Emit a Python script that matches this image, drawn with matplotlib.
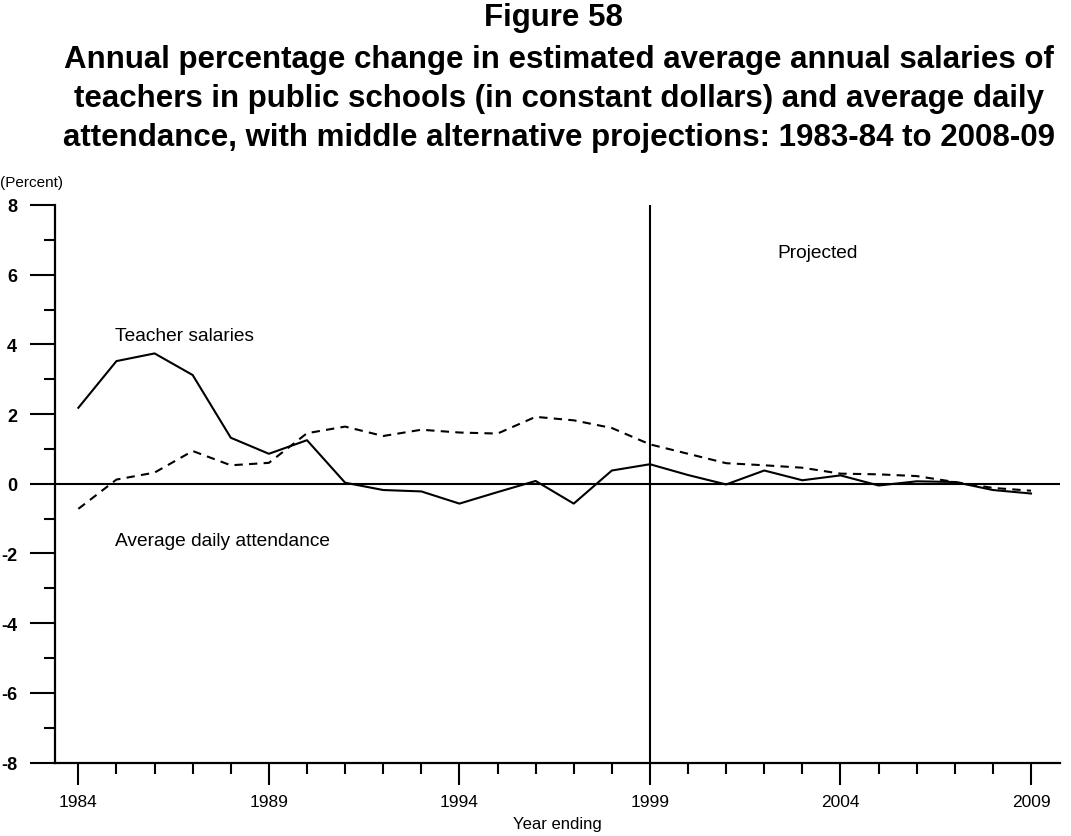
import matplotlib
matplotlib.use('Agg')
import matplotlib.pyplot as plt
from matplotlib.ticker import MultipleLocator

plt.rcParams['font.family'] = ['Liberation Sans', 'DejaVu Sans']
plt.rcParams['axes.unicode_minus'] = False

# data (percent change)
years = list(range(1984, 2010))
salaries = [2.18, 3.52, 3.74, 3.12, 1.32, 0.86, 1.25, 0.03, -0.18, -0.22, -0.57,
            -0.24, 0.08, -0.57, 0.38, 0.56, 0.25, -0.02, 0.38, 0.10, 0.24,
            -0.05, 0.07, 0.05, -0.18, -0.28]
attendance = [-0.72, 0.12, 0.32, 0.94, 0.53, 0.60, 1.45, 1.64, 1.37, 1.55, 1.47,
              1.44, 1.92, 1.82, 1.60, 1.13, 0.86, 0.59, 0.53, 0.46, 0.29,
              0.27, 0.22, 0.05, -0.12, -0.20]
proj_start = 1999
major_years = [1984, 1989, 1994, 1999, 2004, 2009]

fig = plt.figure(figsize=(10.71, 8.37), dpi=100)
ax = fig.add_axes([0.0511, 0.0878, 0.9386, 0.6661])

ax.plot(years, salaries, color='black', lw=1.5)
ax.plot(years, attendance, color='black', lw=1.5, linestyle=(0, (4, 3)))
ax.axhline(0, color='black', lw=1.5)
ax.axvline(proj_start, color='black', lw=1.5)

ax.set_xlim(1983.38, 2009.76)
ax.set_ylim(-8, 8)
ax.set_xticks(major_years)
ax.xaxis.set_minor_locator(MultipleLocator(1))
ax.yaxis.set_major_locator(MultipleLocator(2))
ax.yaxis.set_minor_locator(MultipleLocator(1))

for s in ['top', 'right']:
    ax.spines[s].set_visible(False)
for s in ['left', 'bottom']:
    ax.spines[s].set_linewidth(1.6)

ax.tick_params(axis='x', which='major', length=16, width=1.5, pad=7, labelsize=12.5)
ax.tick_params(axis='x', which='minor', length=8, width=1.5)
ax.tick_params(axis='y', which='major', length=18, width=1.5, pad=9, labelsize=13)
ax.tick_params(axis='y', which='minor', length=8, width=1.5)
for lab in ax.get_yticklabels():
    lab.set_fontweight('bold')

ax.text(1984.96, 4.26, 'Teacher salaries', fontsize=13.8, va='center', ha='left')
ax.text(1984.96, -1.63, 'Average daily attendance', fontsize=13.8, va='center', ha='left')
ax.text(2002.34, 6.65, 'Projected', fontsize=13.8, va='center', ha='left')

ax.set_xlabel('Year ending', fontsize=12, labelpad=5)

fig.text(0.0, 1 - 183 / 837, '(Percent)', fontsize=11, va='center', ha='left')

fig.text(0.517, 1 - 18 / 837, 'Figure 58', fontsize=22.5, fontweight='bold',
         ha='center', va='center')
title_lines = ['Annual percentage change in estimated average annual salaries of',
               'teachers in public schools (in constant dollars) and average daily',
               'attendance, with middle alternative projections: 1983-84 to 2008-09']
for i, t in enumerate(title_lines):
    fig.text(0.522, 1 - (60 + 39 * i) / 837, t, fontsize=22.5, fontweight='bold',
             ha='center', va='center')

fig.savefig('out.png', dpi=100)
